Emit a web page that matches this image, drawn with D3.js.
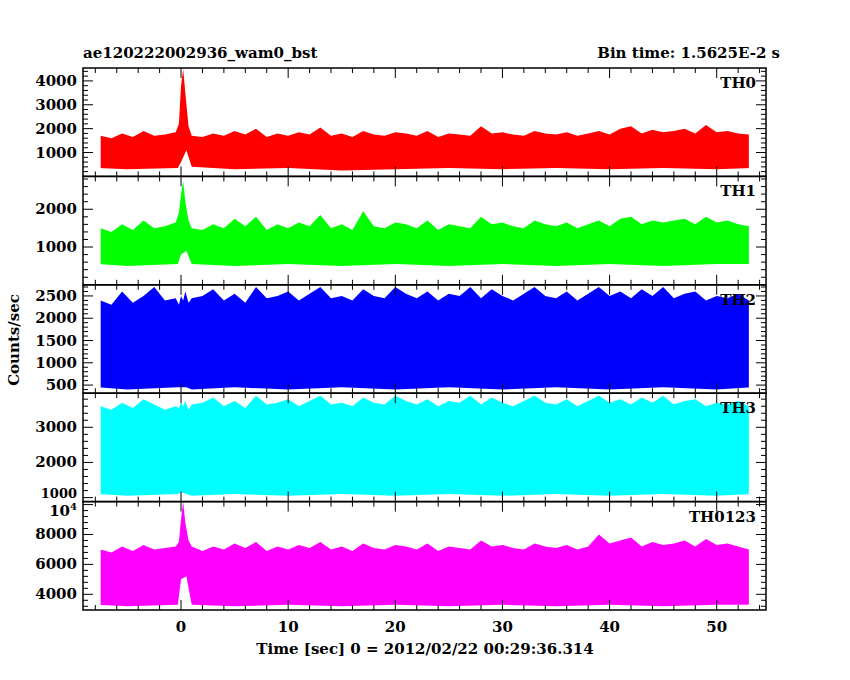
<!DOCTYPE html><html><head><meta charset="utf-8">
<script src="https://cdn.jsdelivr.net/npm/d3@7"></script>
<style>body{margin:0;background:#fff}text{font-family:"DejaVu Serif",serif;font-size:15px;font-weight:bold;fill:#000}</style></head><body>
<svg id="c" width="850" height="680"></svg>
<script>
const tHi=[-7.5,-6.5,-5.5,-4.5,-3.5,-2.5,-1.5,-0.5,-0.2,0,0.2,0.4,0.7,1].concat(d3.range(2,54));
const tLo=[-7.5,-5,-0.3,0,0.5,1,5,10,15,20,25,30,35,40,45,50,53];
const panelNames=["TH0","TH1","TH2","TH3","TH0123"];
const panelColors=["#ff0000","#00ff00","#0000ff","#00ffff","#ff00ff"];
const yDomains=[[0,4540],[0,2870],[318,2750],[886,3970],[2950,10200]];
const yTicks=[[1000,2000,3000,4000],[1000,2000],[500,1000,1500,2000,2500],[1000,2000,3000],[4000,6000,8000,10000]];
const hi0=[1700,1600,1800,1650,1900,1700,1750,1850,2200,3800,4500,3500,2100,1700,
1650,1800,1700,1900,1750,2000,1650,1800,1700,1850,1750,2050,1700,1800,1650,1900,1750,1700,1850,1800,
1700,1900,1650,1800,1750,1700,2100,1800,1850,1750,1700,1900,1800,1750,1850,1700,1800,1900,1750,2000,
2100,1800,1950,1850,1900,2000,1800,2150,1850,1900,1800,1750];
const hi1=[1500,1400,1600,1450,1700,1500,1550,1650,1900,2400,2750,2200,1700,1500,
1450,1600,1500,1750,1550,1800,1450,1600,1500,1650,1550,1850,1500,1600,1450,1950,1550,1500,1650,1600,
1500,1700,1450,1600,1550,1500,1800,1600,1650,1550,1500,1700,1600,1550,1650,1500,1600,1700,1550,1750,
1800,1600,1700,1650,1700,1750,1600,1800,1650,1700,1600,1550];
const hi2=[2400,2300,2600,2350,2500,2700,2400,2450,2300,2500,2400,2600,2350,2450,
2500,2650,2400,2550,2350,2700,2450,2500,2600,2400,2550,2700,2450,2500,2400,2650,2500,2450,2700,2550,
2450,2600,2400,2550,2500,2700,2450,2650,2500,2400,2550,2700,2500,2450,2600,2400,2550,2700,2500,2600,
2450,2650,2500,2700,2450,2550,2600,2400,2500,2450,2550,2400];
const hi3=[3600,3500,3700,3550,3800,3650,3500,3600,3550,3700,3600,3750,3500,3650,
3700,3850,3600,3750,3550,3900,3650,3700,3800,3600,3750,3900,3650,3700,3600,3850,3700,3650,3900,3750,
3650,3800,3600,3750,3700,3900,3650,3850,3700,3600,3750,3900,3700,3650,3800,3600,3750,3900,3700,3800,
3650,3850,3700,3900,3650,3750,3800,3600,3700,3650,3750,3600];
const hi4=[7000,6800,7200,6900,7300,7000,7100,7200,7500,9000,10200,8800,7600,7200,
6900,7200,7000,7400,7100,7500,6900,7200,7000,7300,7100,7500,7000,7200,6900,7400,7100,7000,7300,7200,
7000,7400,6900,7200,7100,7000,7600,7200,7300,7100,7000,7400,7200,7100,7300,7000,7200,8000,7400,7600,
7800,7200,7500,7300,7400,7600,7200,7700,7300,7400,7200,7000];
const lo0=[350,300,350,600,1100,400,300,350,250,300,350,300,350,300,350,300,350];
const lo1=[550,500,550,800,900,550,500,550,500,550,500,550,500,550,500,550,550];
const lo2=[450,400,450,450,450,400,450,400,450,400,450,400,450,400,450,400,450];
const lo3=[1100,1050,1100,1150,1100,1050,1100,1050,1100,1050,1100,1050,1100,1050,1100,1050,1100];
const lo4=[3300,3200,3300,5000,5200,3300,3200,3300,3200,3300,3200,3300,3200,3300,3200,3300,3300];
const his=[hi0,hi1,hi2,hi3,hi4], los=[lo0,lo1,lo2,lo3,lo4];
const xTicks=[0,10,20,30,40,50];

const svg=d3.select("#c");
const L=83,R=766,T=68,B=610,ph=(B-T)/5;
const x=d3.scaleLinear().domain([-9.15,54.6]).range([L,R]);
panelNames.forEach((nm,i)=>{
  const top=T+i*ph, bot=top+ph;
  const y=d3.scaleLinear().domain(yDomains[i]).range([bot,top]);
  const g=svg.append("g");
  const clip="cl"+i;
  svg.append("clipPath").attr("id",clip).append("rect").attr("x",L).attr("y",top).attr("width",R-L).attr("height",ph);
  const dh=tHi.map((t,k)=>[t,his[i][k]]);
  const area=d3.area().curve(d3.curveLinear).x(d=>x(d[0])).y0(bot).y1(d=>y(d[1]));
  g.append("path").attr("clip-path",`url(#${clip})`).attr("d",area(dh)).attr("fill",panelColors[i]);
  const dl=tLo.map((t,k)=>[t,los[i][k]]);
  dl[0]=[dl[0][0]-0.3,dl[0][1]]; dl[dl.length-1]=[dl[dl.length-1][0]+0.3,dl[dl.length-1][1]];
  g.append("path").attr("clip-path",`url(#${clip})`).attr("d",d3.area().curve(d3.curveLinear).x(d=>x(d[0])).y0(bot+1).y1(d=>y(d[1]))(dl)).attr("fill","#fff");
  const step=yTicks[i][1]-yTicks[i][0], minor=step/5;
  const mt=d3.range(Math.ceil(yDomains[i][0]/minor)*minor,yDomains[i][1],minor);
  mt.forEach(v=>{const yy=y(v),big=yTicks[i].includes(v)?10:5;
    g.append("line").attr("x1",L).attr("x2",L+big).attr("y1",yy).attr("y2",yy).attr("stroke","#000");
    g.append("line").attr("x1",R).attr("x2",R-big).attr("y1",yy).attr("y2",yy).attr("stroke","#000");});
  yTicks[i].forEach(v=>{
    let yy=y(v)+5; if(i===3&&v===1000) yy-=5; if(v===10000) yy+=6;
    const t=g.append("text").attr("x",L-6).attr("y",yy).attr("text-anchor","end");
    if(i===3&&v===1000) t.style("font-size","13px");
    if(v===10000){t.text("10");t.append("tspan").attr("dy",-6).attr("font-size",10).text("4");}
    else t.text(v);});
  d3.range(-8,55,2).forEach(v=>{const xx=x(v),big=v%10===0?10:5;
    g.append("line").attr("x1",xx).attr("x2",xx).attr("y1",bot).attr("y2",bot-big).attr("stroke","#000");
    g.append("line").attr("x1",xx).attr("x2",xx).attr("y1",top).attr("y2",top+big).attr("stroke","#000");});
  g.append("rect").attr("x",L).attr("y",top).attr("width",R-L).attr("height",ph).attr("fill","none").attr("stroke","#000").attr("stroke-width",1.5);
  g.append("text").attr("x",R-10).attr("y",top+20).attr("text-anchor","end").text(nm);
});
xTicks.forEach(v=>svg.append("text").attr("x",x(v)).attr("y",B+22).attr("text-anchor","middle").text(v));
svg.append("text").attr("x",L).attr("y",58).text("ae120222002936_wam0_bst");
svg.append("text").attr("x",780).attr("y",58).attr("text-anchor","end").text("Bin time: 1.5625E-2 s");
svg.append("text").attr("x",425).attr("y",654).attr("text-anchor","middle").text("Time [sec] 0 = 2012/02/22 00:29:36.314");
svg.append("text").attr("transform","translate(19,340) rotate(-90)").attr("text-anchor","middle").text("Counts/sec");
</script></body></html>
